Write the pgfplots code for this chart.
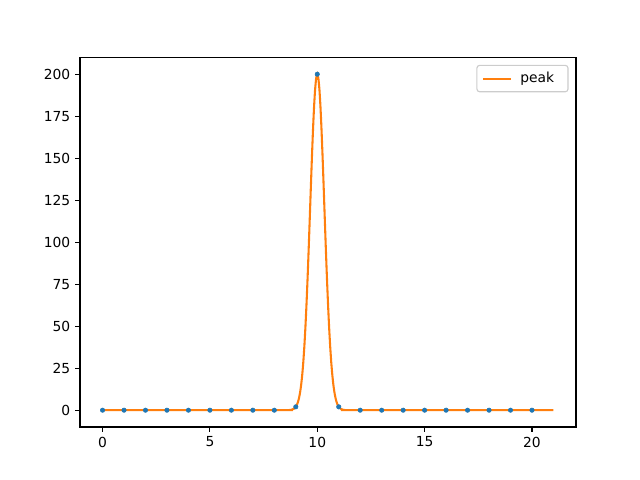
\documentclass[border=0pt]{standalone}
\usepackage{fontspec}
\setmainfont{DejaVu Sans}
\usepackage{pgfplots}
\pgfplotsset{compat=1.18}
\definecolor{mplblue}{HTML}{1F77B4}
\definecolor{mplorange}{HTML}{FF7F0E}
\begin{document}
\begin{tikzpicture}
\path[use as bounding box] (-0.8in,-0.53in) rectangle (5.6in,4.27in);
\begin{axis}[
  at={(0,0)}, anchor=south west,
  scale only axis, width=4.96in, height=3.696in,
  xmin=-1.05, xmax=22.05, ymin=-10, ymax=210,
  xtick={0,5,10,15,20}, ytick={0,25,50,75,100,125,150,175,200},
  tick align=outside, tick pos=left,
  major tick length=3.5pt,
  tick style={black, line width=0.8pt},
  axis line style={line width=0.8pt},
  /pgf/number format/assume math mode=true,
  ticklabel style={font=\fontsize{10}{12}\selectfont},
  legend style={font=\fontsize{10}{12}\selectfont, draw=black!20, rounded corners=2pt, line width=0.8pt, inner xsep=4pt, inner ysep=3pt, at={(0.985,0.98)}, anchor=north east,
    nodes={inner xsep=6pt}},
  legend image code/.code={\draw[#1] (0cm,0cm) -- (0.7cm,0cm);},
  legend cell align=left,
]
\addplot[only marks, mark=*, mark size=1.6pt, color=mplblue, forget plot] coordinates {
(0,0) (1,0) (2,0) (3,0) (4,0) (5,0) (6,0) (7,0) (8,0) (9,2) (10,200) (11,2) (12,0) (13,0) (14,0) (15,0) (16,0) (17,0) (18,0) (19,0) (20,0)
};
\addplot[color=mplorange, line width=1.5pt, smooth, tension=0.3] coordinates {
(0,0) (8.5,0) (8.7,0.09) (8.8,0.27) (8.9,0.77) (9,2.03) (9.05,3.17) (9.1,4.85) (9.15,7.25) (9.2,10.6) (9.25,15.1) (9.3,21.1) (9.35,28.7) (9.4,38.3) (9.45,49.9) (9.5,63.5) (9.55,78.9) (9.6,95.9) (9.65,114.0) (9.7,132.3) (9.75,150.1) (9.8,166.4) (9.85,180.4) (9.9,191.0) (9.95,197.7) (10,200)
(10.05,197.7) (10.1,191.0) (10.15,180.4) (10.2,166.4) (10.25,150.1) (10.3,132.3) (10.35,114.0) (10.4,95.9) (10.45,78.9) (10.5,63.5) (10.55,49.9) (10.6,38.3) (10.65,28.7) (10.7,21.1) (10.75,15.1) (10.8,10.6) (10.85,7.25) (10.9,4.85) (10.95,3.17) (11,2.03) (11.1,0.77) (11.2,0.27) (11.3,0.09) (11.5,0) (21,0)
};
\addlegendentry{peak}
\end{axis}
\end{tikzpicture}
\end{document}
